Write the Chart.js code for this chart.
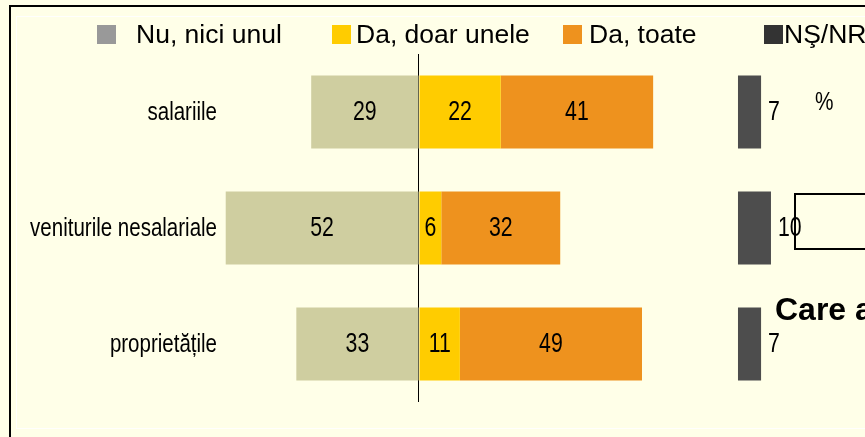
<!DOCTYPE html>
<html>
<head>
<meta charset="utf-8">
<script src="https://cdn.jsdelivr.net/npm/chart.js@4.4.1/dist/chart.umd.min.js"></script>
<style>
    body { margin: 0; background: #ffffe8; }
</style>
</head>
<body>
<canvas id="chart" width="865" height="437"></canvas>
<script>
// Chart data
const categories = ["salariile", "veniturile nesalariale", "proprietățile"];
const seriesNames = ["Nu, nici unul", "Da, doar unele", "Da, toate", "NŞ/NR"];
const nuNiciUnul = [29, 52, 33];
const daDoarUnele = [22, 6, 11];
const daToate = [41, 32, 49];
const nsNr = [7, 10, 7];

const barColors = ["#cfcea0", "#ffcc00", "#ee921e", "#4d4d4d"];
const legendColors = ["#999999", "#ffcc00", "#ee921e", "#333333"];

// no narrow font installed, so squeeze Liberation Sans horizontally
function narrowText(ctx, text, x, y, align, size, squeeze) {
    ctx.save();
    ctx.translate(x, y);
    ctx.scale(squeeze, 1);
    ctx.font = size + "px 'Liberation Sans', Arial, sans-serif";
    ctx.textAlign = align;
    ctx.textBaseline = "middle";
    ctx.fillStyle = "#000";
    ctx.fillText(text, 0, 0);
    ctx.restore();
}

// background, frame, labels and extra text from the slide
const slidePlugin = {
    id: "slide",
    beforeDraw(chart) {
        const ctx = chart.ctx;
        ctx.save();
        ctx.fillStyle = "#ffffe8";
        ctx.fillRect(0, 0, chart.width, chart.height);
        ctx.strokeStyle = "rgba(255,255,255,0.9)";
        ctx.lineWidth = 1;
        ctx.beginPath();
        ctx.moveTo(17, 16.5); ctx.lineTo(chart.width, 16.5);
        ctx.moveTo(16.5, 16); ctx.lineTo(16.5, 429);
        ctx.moveTo(17, 428.5); ctx.lineTo(chart.width, 428.5);
        ctx.stroke();
        ctx.strokeStyle = "#000";
        ctx.lineWidth = 2;
        ctx.beginPath();
        ctx.moveTo(10, chart.height); ctx.lineTo(10, 6); ctx.lineTo(chart.width, 6);
        ctx.stroke();
        ctx.restore();
    },
    afterDraw(chart) {
        const ctx = chart.ctx;
        ctx.save();
        // legend
        const swatchX = [97, 332, 563, 764];
        const textX = [136, 356, 589, 784];
        ctx.font = "26.5px 'Liberation Sans', Arial, sans-serif";
        ctx.textBaseline = "alphabetic";
        ctx.textAlign = "left";
        seriesNames.forEach(function (name, i) {
            ctx.fillStyle = legendColors[i];
            ctx.fillRect(swatchX[i], 25, 19, 19);
            ctx.fillStyle = "#000";
            ctx.fillText(name, textX[i], 43);
        });
        // category labels
        const yScale = chart.scales.y;
        categories.forEach(function (cat, i) {
            narrowText(ctx, cat, chart.chartArea.left - 5, yScale.getPixelForValue(i) + 1, "right", 25, 0.82);
        });
        // leftovers of the slide
        narrowText(ctx, "%", 815, 103, "left", 26, 0.8);
        ctx.strokeStyle = "#000";
        ctx.lineWidth = 2;
        ctx.beginPath();
        ctx.moveTo(chart.width + 2, 194); ctx.lineTo(795, 194); ctx.lineTo(795, 249); ctx.lineTo(chart.width + 2, 249);
        ctx.stroke();
        ctx.fillStyle = "#000";
        ctx.font = "bold 32px 'Liberation Sans', Arial, sans-serif";
        ctx.fillText("Care a", 775, 320);
        ctx.restore();
    },
    afterDatasetsDraw(chart) {
        const ctx = chart.ctx;
        chart.data.datasets.forEach(function (ds, di) {
            const meta = chart.getDatasetMeta(di);
            meta.data.forEach(function (bar, i) {
                const p = bar.getProps(["x", "y", "base"], true);
                const label = String(Math.abs(ds.data[i]));
                if (di === 3) {
                    narrowText(ctx, label, p.x + 7, p.y, "left", 28, 0.76);
                } else {
                    narrowText(ctx, label, (p.x + p.base) / 2, p.y, "center", 28, 0.76);
                }
            });
        });
    }
};

const ctx = document.getElementById("chart").getContext("2d");
new Chart(ctx, {
    type: "bar",
    data: {
        labels: categories,
        datasets: [
            { label: seriesNames[0], data: nuNiciUnul.map(v => -v), backgroundColor: barColors[0], xAxisID: "x" },
            { label: seriesNames[1], data: daDoarUnele, backgroundColor: barColors[1], xAxisID: "x" },
            { label: seriesNames[2], data: daToate, backgroundColor: barColors[2], xAxisID: "x" },
            { label: seriesNames[3], data: nsNr, backgroundColor: barColors[3], xAxisID: "x2" }
        ]
    },
    options: {
        indexAxis: "y",
        responsive: false,
        animation: false,
        layout: { padding: { top: 54, bottom: 35, left: 0, right: 0 } },
        datasets: { bar: { barPercentage: 0.63, categoryPercentage: 1 } },
        plugins: { legend: { display: false }, tooltip: { enabled: false } },
        scales: {
            x: {
                stacked: true,
                min: -53,
                max: 120,
                ticks: { display: false, stepSize: 10 },
                border: { display: false },
                grid: {
                    drawTicks: false,
                    color: c => (c.tick && c.tick.value === 0 ? "#000" : "rgba(0,0,0,0)"),
                    lineWidth: 1
                }
            },
            x2: {
                display: false,
                position: "top",
                stacked: true,
                min: -156.4,
                max: 38.5
            },
            y: {
                stacked: true,
                grid: { display: false, drawTicks: false },
                border: { display: false },
                ticks: { display: false },
                afterFit(scale) { scale.width = 222; }
            }
        }
    },
    plugins: [slidePlugin]
});
</script>
</body>
</html>
